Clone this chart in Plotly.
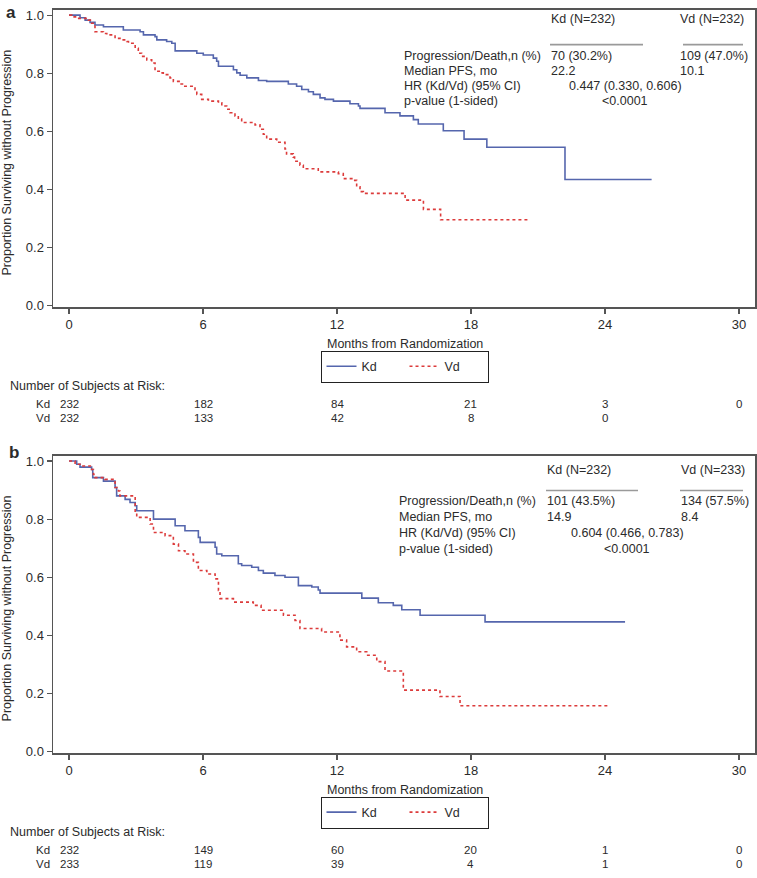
import plotly.graph_objects as go

# ---------------- data ----------------
# Panel a: Kaplan-Meier step points (month, survival)
a_kd_t = [0, 0.49, 0.72, 0.94, 1.16, 1.54, 2.43, 3.18, 3.33, 3.85, 3.93, 4.37, 4.60, 4.75, 5.72, 6.01,
          6.46, 6.61, 6.69, 7.36, 7.51, 7.66, 7.96, 8.48, 8.85, 9.82, 10.19, 10.42, 10.72, 10.94, 11.24,
          11.46, 11.84, 12.58, 12.96, 13.03, 14.15, 14.82, 15.42, 15.64, 16.76, 17.69, 18.71, 22.21, 26.09]
a_kd_s = [1.0, 0.991, 0.983, 0.975, 0.966, 0.960, 0.949, 0.943, 0.932, 0.926, 0.915, 0.909, 0.903, 0.877,
          0.869, 0.863, 0.852, 0.841, 0.824, 0.812, 0.801, 0.793, 0.784, 0.775, 0.772, 0.763, 0.755, 0.744,
          0.736, 0.727, 0.715, 0.710, 0.704, 0.695, 0.687, 0.679, 0.664, 0.653, 0.640, 0.625, 0.602, 0.573,
          0.545, 0.434, 0.434]
a_vd_t = [0, 0.12, 0.34, 0.87, 1.01, 1.16, 1.54, 1.69, 2.06, 2.28, 2.58, 2.66, 2.96, 3.10, 3.25, 3.48,
          3.70, 3.85, 4.08, 4.22, 4.52, 4.67, 4.97, 5.12, 5.64, 5.72, 5.94, 6.24, 6.69, 6.84, 7.06, 7.21,
          7.43, 7.58, 7.73, 8.33, 8.55, 8.70, 8.85, 9.30, 9.67, 9.74, 10.04, 10.10, 10.34, 10.49, 11.16,
          12.06, 12.28, 12.73, 12.88, 13.03, 13.18, 15.05, 15.87, 16.64, 20.64]
a_vd_s = [1.0, 0.994, 0.989, 0.983, 0.972, 0.943, 0.937, 0.932, 0.920, 0.915, 0.909, 0.903, 0.886, 0.869,
          0.858, 0.846, 0.835, 0.807, 0.801, 0.795, 0.784, 0.772, 0.763, 0.755, 0.744, 0.727, 0.710, 0.704,
          0.698, 0.687, 0.676, 0.664, 0.653, 0.642, 0.630, 0.622, 0.607, 0.590, 0.573, 0.562, 0.539, 0.522,
          0.511, 0.497, 0.483, 0.471, 0.460, 0.454, 0.437, 0.431, 0.409, 0.392, 0.386, 0.363, 0.331, 0.295,
          0.295]

# Panel b
b_kd_t = [0, 0.34, 0.49, 1.01, 1.06, 1.54, 2.06, 2.13, 2.51, 2.73, 2.96, 3.03, 3.78, 4.75, 5.19, 5.79,
          5.87, 6.54, 6.61, 6.84, 7.58, 7.73, 8.18, 8.48, 8.70, 9.22, 9.67, 10.27, 10.87, 11.16, 11.24,
          13.11, 13.85, 14.52, 14.90, 15.72, 18.63, 24.90]
b_kd_s = [1.0, 0.989, 0.979, 0.971, 0.943, 0.931, 0.909, 0.880, 0.868, 0.857, 0.846, 0.829, 0.800, 0.777,
          0.760, 0.737, 0.720, 0.703, 0.680, 0.674, 0.646, 0.640, 0.634, 0.623, 0.614, 0.606, 0.600, 0.571,
          0.566, 0.556, 0.545, 0.528, 0.512, 0.503, 0.488, 0.469, 0.446, 0.446]
b_vd_t = [0, 0.27, 0.49, 1.01, 1.09, 1.16, 1.61, 2.06, 2.21, 2.28, 2.96, 3.03, 3.63, 3.78, 4.30, 4.67,
          4.90, 5.19, 5.57, 5.79, 6.17, 6.54, 6.69, 6.76, 7.36, 8.25, 8.60, 9.60, 10.12, 10.34, 11.31,
          12.13, 12.43, 12.88, 13.33, 13.78, 14.15, 14.97, 16.61, 17.51, 24.15]
b_vd_s = [1.0, 0.989, 0.983, 0.971, 0.954, 0.943, 0.937, 0.909, 0.897, 0.880, 0.823, 0.806, 0.783, 0.754,
          0.743, 0.714, 0.691, 0.680, 0.651, 0.623, 0.611, 0.594, 0.554, 0.526, 0.514, 0.503, 0.486, 0.469,
          0.451, 0.423, 0.411, 0.383, 0.360, 0.343, 0.331, 0.309, 0.277, 0.211, 0.189, 0.157, 0.157]

x_ticks = [0, 6, 12, 18, 24, 30]
y_ticks = [0.0, 0.2, 0.4, 0.6, 0.8, 1.0]

a_risk_kd = ["232", "182", "84", "21", "3", "0"]
a_risk_vd = ["232", "133", "42", "8", "0", ""]
b_risk_kd = ["232", "149", "60", "20", "1", "0"]
b_risk_vd = ["233", "119", "39", "4", "1", "0"]

stat_labels = ["Progression/Death,n (%)", "Median PFS, mo", "HR (Kd/Vd) (95% CI)", "p-value (1-sided)"]
a_headers = ["Kd (N=232)", "Vd (N=232)"]
a_kd_stats = ["70 (30.2%)", "22.2"]
a_vd_stats = ["109 (47.0%)", "10.1"]
a_hr = "0.447 (0.330, 0.606)"
a_p = "<0.0001"
b_headers = ["Kd (N=232)", "Vd (N=233)"]
b_kd_stats = ["101 (43.5%)", "14.9"]
b_vd_stats = ["134 (57.5%)", "8.4"]
b_hr = "0.604 (0.466, 0.783)"
b_p = "<0.0001"

# ---------------- styling / layout ----------------
W, H = 757, 878
FONT = "Liberation Sans, Arial, Helvetica, sans-serif"
BLUE = "#5566ad"
RED = "#dc3b3b"
FRAME = "#555555"
TXT = "#2b2b2b"


def px(x):
    return x / W


def py(y):
    return 1 - y / H


fig = go.Figure()

fig.add_trace(go.Scatter(x=a_kd_t, y=a_kd_s, mode="lines", line=dict(shape="hv", color=BLUE, width=1.6),
                         name="Kd", xaxis="x", yaxis="y", legend="legend"))
fig.add_trace(go.Scatter(x=a_vd_t, y=a_vd_s, mode="lines", line=dict(shape="hv", color=RED, width=1.6, dash="dot"),
                         name="Vd", xaxis="x", yaxis="y", legend="legend"))
fig.add_trace(go.Scatter(x=b_kd_t, y=b_kd_s, mode="lines", line=dict(shape="hv", color=BLUE, width=1.6),
                         name="Kd", xaxis="x2", yaxis="y2", legend="legend2"))
fig.add_trace(go.Scatter(x=b_vd_t, y=b_vd_s, mode="lines", line=dict(shape="hv", color=RED, width=1.6, dash="dot"),
                         name="Vd", xaxis="x2", yaxis="y2", legend="legend2"))

xr = [-0.72, 30.72]
yr = [-0.006, 1.018]
xdom = [px(53), px(755)]

axis_common = dict(showline=True, mirror=True, linecolor=FRAME, linewidth=1.5, showgrid=False,
                   zeroline=False, ticks="outside", ticklen=5, tickcolor=FRAME, tickwidth=1.2,
                   tickfont=dict(family=FONT, size=13, color=TXT), fixedrange=True)

legend_common = dict(orientation="h", xanchor="center", yanchor="middle",
                     bordercolor="#222", borderwidth=1, bgcolor="white",
                     font=dict(family=FONT, size=12.5, color=TXT), itemwidth=30,
                     entrywidth=38, tracegroupgap=0)

fig.update_layout(
    width=W, height=H, margin=dict(l=0, r=0, t=0, b=0),
    paper_bgcolor="white", plot_bgcolor="white",
    xaxis=dict(domain=xdom, range=xr, tickvals=x_ticks, anchor="y", **axis_common),
    yaxis=dict(domain=[py(308), py(8)], range=yr, tickvals=y_ticks, tickformat=".1f", anchor="x", **axis_common),
    xaxis2=dict(domain=xdom, range=xr, tickvals=x_ticks, anchor="y2", **axis_common),
    yaxis2=dict(domain=[py(758), py(458)], range=yr, tickvals=y_ticks, tickformat=".1f", anchor="x2", **axis_common),
    legend=dict(x=px(404.5), y=py(368), **legend_common),
    legend2=dict(x=px(404.5), y=py(818), **legend_common),
    showlegend=True,
)

ann = []
shapes = []


def text(x, y, s, size=12.5, anchor="left", xref="paper", angle=0, yanchor="middle"):
    ann.append(dict(x=x if xref != "paper" else px(x), y=py(y), xref=xref, yref="paper", text=s,
                    showarrow=False, xanchor=anchor, yanchor=yanchor, textangle=angle, borderpad=0,
                    font=dict(family=FONT, size=size, color=TXT)))


RISK = 11.5


def panel(off, headers, kd_stats, vd_stats, hr, p, risk_kd, risk_vd, letter, letter_xy,
          hdr_y, line_y, rows_y, lab_x, kd_x, vd_x, hr_x, kd_line, vd_line, xname):
    # panel letter
    text(letter_xy[0], letter_xy[1], "<b>%s</b>" % letter, size=17, yanchor="top")
    # y title
    text(7, 162 + off, "Proportion Surviving without Progression", size=12.5, anchor="center", angle=-90)
    # x title
    text(404.5, 345 + off, "Months from Randomization", size=12.5, anchor="center")
    # stats block
    text(kd_x, hdr_y, headers[0])
    text(vd_x, hdr_y, headers[1])
    shapes.append(dict(type="line", xref="paper", yref="paper", x0=px(kd_line[0]), x1=px(kd_line[1]),
                       y0=py(line_y), y1=py(line_y), line=dict(color="#9a9a9a", width=1.6)))
    shapes.append(dict(type="line", xref="paper", yref="paper", x0=px(vd_line[0]), x1=px(vd_line[1]),
                       y0=py(line_y), y1=py(line_y), line=dict(color="#9a9a9a", width=1.6)))
    for lab, yy in zip(stat_labels, rows_y):
        text(lab_x, yy, lab)
    for val, yy in zip(kd_stats, rows_y[:2]):
        text(kd_x, yy, val)
    for val, yy in zip(vd_stats, rows_y[:2]):
        text(vd_x, yy, val)
    text(hr_x, rows_y[2], hr, anchor="center")
    text(hr_x, rows_y[3], p, anchor="center")
    # risk table
    mid = 412.5 + off
    text(9, 388 + off, "Number of Subjects at Risk:", size=12.5)
    text(35, mid, "Kd", size=RISK, yanchor="bottom")
    text(35, mid, "Vd", size=RISK, yanchor="top")
    for xv, v in zip(x_ticks, risk_kd):
        if v:
            text(xv, mid, v, size=RISK, anchor="center", xref=xname, yanchor="bottom")
    for xv, v in zip(x_ticks, risk_vd):
        if v:
            text(xv, mid, v, size=RISK, anchor="center", xref=xname, yanchor="top")


panel(0, a_headers, a_kd_stats, a_vd_stats, a_hr, a_p, a_risk_kd, a_risk_vd, "a", (5, 0),
      17, 43, [54, 70, 85, 100], 403, 550, 679, 625, (550, 643), (683, 743), "x")
panel(450, b_headers, b_kd_stats, b_vd_stats, b_hr, b_p, b_risk_kd, b_risk_vd, "b", (8, 444),
      472, 493, [504, 520, 536, 552], 398, 546, 680, 627, (546, 638), (680, 743), "x2")

fig.update_layout(annotations=ann, shapes=shapes)

fig.write_html("out.html", config={"displayModeBar": False, "staticPlot": True},
               post_script="document.body.style.margin='0';document.body.style.overflow='hidden';")
